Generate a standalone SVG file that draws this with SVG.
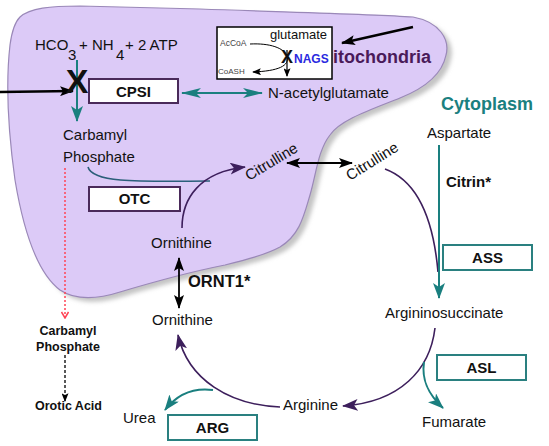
<svg xmlns="http://www.w3.org/2000/svg" width="549" height="446" viewBox="0 0 549 446">
<style>
text{font-family:"Liberation Sans",Arial,sans-serif;fill:#111}
.t{font-size:15px}
.b{font-weight:bold}
.box{fill:#fff;stroke-width:2}
.pbox{stroke:#4a2a5a}
.tbox{stroke:#2a8080}
.teal{stroke:#1a7f7f;fill:none;stroke-width:2}
.purp{stroke:#3d1f5c;fill:none;stroke-width:1.6}
.blk{stroke:#000;fill:none}
</style>
<defs>
<filter id="blur" x="-10%" y="-10%" width="120%" height="120%"><feGaussianBlur stdDeviation="2"/></filter>
<marker id="tealDart" viewBox="0 0 20 10" markerWidth="20" markerHeight="10" refX="19" refY="5" orient="auto-start-reverse" markerUnits="userSpaceOnUse"><path d="M0,0 L20,5 L0,10 L5,5 Z" fill="#1a7f7f"/></marker>
<marker id="tealHead" viewBox="0 0 16 12" markerWidth="16" markerHeight="12" refX="15" refY="6" orient="auto-start-reverse" markerUnits="userSpaceOnUse"><path d="M0,0 L16,6 L0,12 L4,6 Z" fill="#1a7f7f"/></marker>
<marker id="purpHead" viewBox="0 0 16 12" markerWidth="16" markerHeight="12" refX="15" refY="6" orient="auto" markerUnits="userSpaceOnUse"><path d="M0,0 L16,6 L0,12 L4,6 Z" fill="#3d1f5c"/></marker>
<marker id="blkHead" viewBox="0 0 14 10" markerWidth="14" markerHeight="10" refX="13" refY="5" orient="auto-start-reverse" markerUnits="userSpaceOnUse"><path d="M0,0 L14,5 L0,10 L3,5 Z" fill="#000"/></marker>
<marker id="blkSmall" viewBox="0 0 10 8" markerWidth="9" markerHeight="7" refX="9" refY="4" orient="auto" markerUnits="userSpaceOnUse"><path d="M0,0 L10,4 L0,8 L2,4 Z" fill="#000"/></marker>
<marker id="redV" viewBox="0 0 8 8" markerWidth="8" markerHeight="8" refX="7" refY="4" orient="auto" markerUnits="userSpaceOnUse"><path d="M1,0.5 L7,4 L1,7.5" fill="none" stroke="#ff4455" stroke-width="1.5"/></marker>
</defs>

<g id="mitochondria">
<path transform="translate(5,4)" filter="url(#blur)" fill="#c4c4c4" d="M 20,17 C 30,8 50,6 80,6 L 200,9 C 280,12 370,14 413,17 C 440,22 450,40 446,55 C 442,75 425,88 400,98 C 370,110 340,120 330,135 C 318,150 316,175 310,195 C 304,215 300,235 280,247 C 265,255 245,260 225,265 C 200,270 160,280 120,292 C 95,300 75,300 60,290 C 40,275 25,240 15,180 C 8,130 6,80 10,45 C 12,30 15,22 20,17 Z"/>
<path fill="#dccaf7" stroke="#9a88b8" stroke-width="1.2" d="M 20,17 C 30,8 50,6 80,6 L 200,9 C 280,12 370,14 413,17 C 440,22 450,40 446,55 C 442,75 425,88 400,98 C 370,110 340,120 330,135 C 318,150 316,175 310,195 C 304,215 300,235 280,247 C 265,255 245,260 225,265 C 200,270 160,280 120,292 C 95,300 75,300 60,290 C 40,275 25,240 15,180 C 8,130 6,80 10,45 C 12,30 15,22 20,17 Z"/>
<text x="333" y="63" class="b" font-size="18" style="fill:#4a1a5a">itochondria</text>
</g>

<g id="connectors">
<line x1="77" y1="60" x2="77" y2="121" class="teal" stroke-width="1.6" marker-end="url(#tealHead)"/>
<line x1="0" y1="92" x2="73" y2="91" class="blk" stroke-width="2.5" marker-end="url(#blkHead)"/>
<line x1="182" y1="93" x2="262" y2="93" class="teal" stroke-width="1.6" marker-start="url(#tealDart)" marker-end="url(#tealDart)"/>
<line x1="413" y1="27" x2="342" y2="43" class="blk" stroke-width="2.5" marker-end="url(#blkHead)"/>
<path d="M 88,167 C 92,182 130,182 210,181" fill="none" stroke="#2b5f7a" stroke-width="1.6"/>
<path d="M 182,228 C 182,198 200,172 245,167" class="purp" marker-end="url(#purpHead)"/>
<line x1="287" y1="163" x2="352" y2="163" class="blk" stroke-width="1.8" marker-start="url(#blkHead)" marker-end="url(#blkHead)"/>
<path d="M 385,169 C 415,180 433,215 438,272" class="purp" stroke="#2a1a40"/>
<line x1="439" y1="145" x2="439" y2="298" class="teal" marker-end="url(#tealHead)"/>
<path d="M 435,328 C 430,370 400,402 343,406" class="purp" marker-end="url(#purpHead)"/>
<path d="M 424,362 C 421,382 430,396 443,408" class="teal" marker-end="url(#tealHead)"/>
<path d="M 280,407 C 230,405 188,380 178,335" class="purp" marker-end="url(#purpHead)"/>
<path d="M 213,390 C 190,387 175,397 165,410" class="teal" marker-end="url(#tealHead)"/>
<line x1="179" y1="258" x2="179" y2="308" class="blk" stroke-width="1.8" marker-start="url(#blkHead)" marker-end="url(#blkHead)"/>
<line x1="65" y1="168" x2="65" y2="318" stroke="#ff4455" stroke-width="1.5" stroke-dasharray="2,2" marker-end="url(#redV)"/>
<line x1="65" y1="355" x2="65" y2="401" stroke="#222" stroke-width="1.5" stroke-dasharray="3,2" marker-end="url(#blkSmall)"/>
</g>

<g id="substrates">
<text class="t" y="50"><tspan x="35">HCO</tspan><tspan x="68" y="60">3</tspan><tspan x="79" y="50">+ NH</tspan><tspan x="116" y="60">4</tspan><tspan x="125" y="50">+ 2 ATP</tspan></text>
<text x="77" y="93" class="b" font-size="34" text-anchor="middle">X</text>
</g>

<g id="CPSI">
<rect x="89" y="79" width="89" height="24" class="box pbox"/>
<text x="133.5" y="97" class="t b" text-anchor="middle">CPSI</text>
</g>

<g id="NAGS">
<rect x="217" y="27" width="115" height="52" fill="#fff" stroke="#000" stroke-width="1.5"/>
<text x="270" y="39" font-size="13">glutamate</text>
<text x="220" y="46" font-size="8.5" style="fill:#444">AcCoA</text>
<text x="218" y="74" font-size="8" style="fill:#444">CoASH</text>
<path d="M 250,44 C 270,43 284,48 287,56 C 290,66 278,71 253,72" fill="none" stroke="#000" stroke-width="1" marker-end="url(#blkSmall)"/>
<line x1="287" y1="50" x2="287" y2="76" stroke="#000" stroke-width="1.2" marker-end="url(#blkSmall)"/>
<text x="287" y="63" class="b" font-size="18" text-anchor="middle">X</text>
<text x="294" y="63" class="b" font-size="12" style="fill:#2a2ae0">NAGS</text>
</g>

<g id="NAG"><text x="268" y="98" class="t">N-acetylglutamate</text></g>

<g id="carbamyl-phosphate"><text x="63" y="140" class="t">Carbamyl</text><text x="63" y="162" class="t">Phosphate</text></g>

<g id="OTC">
<rect x="89" y="187" width="91" height="24" class="box pbox"/>
<text x="134.5" y="204" class="t b" text-anchor="middle">OTC</text>
</g>

<g id="ornithine-mito"><text x="151" y="248" class="t">Ornithine</text></g>
<g id="citrulline-mito"><text class="t" transform="translate(249,181) rotate(-31)">Citrulline</text></g>
<g id="citrulline-cyto"><text class="t" transform="translate(350,181) rotate(-32)">Citrulline</text></g>

<g id="cytoplasm-label"><text x="441" y="110" class="b" font-size="18" style="fill:#1a8080">Cytoplasm</text></g>
<g id="aspartate"><text x="427" y="138" class="t">Aspartate</text></g>
<g id="citrin"><text x="446" y="187" class="t b">Citrin*</text></g>

<g id="ASS">
<rect x="443" y="245" width="89" height="25" class="box tbox"/>
<text x="487.5" y="263" class="t b" text-anchor="middle">ASS</text>
</g>

<g id="argininosuccinate"><text x="385" y="318" class="t">Argininosuccinate</text></g>

<g id="ASL">
<rect x="437" y="355" width="89" height="25" class="box tbox"/>
<text x="481.5" y="373" class="t b" text-anchor="middle">ASL</text>
</g>

<g id="fumarate"><text x="422" y="427" class="t">Fumarate</text></g>
<g id="arginine"><text x="283" y="410" class="t">Arginine</text></g>

<g id="ARG">
<rect x="168" y="415" width="89" height="25" class="box tbox"/>
<text x="212.5" y="433" class="t b" text-anchor="middle">ARG</text>
</g>

<g id="urea"><text x="123" y="423" class="t">Urea</text></g>
<g id="ornithine-cyto"><text x="152" y="325" class="t">Ornithine</text></g>
<g id="ORNT1"><text x="188" y="287" class="b" font-size="16.5">ORNT1*</text></g>

<g id="carbamyl-phosphate-cyto">
<text x="68" y="335" class="b" font-size="12.5" text-anchor="middle">Carbamyl</text>
<text x="68" y="351" class="b" font-size="12.5" text-anchor="middle">Phosphate</text>
</g>
<g id="orotic-acid"><text x="68.5" y="410" class="b" font-size="12.5" text-anchor="middle">Orotic Acid</text></g>
</svg>
